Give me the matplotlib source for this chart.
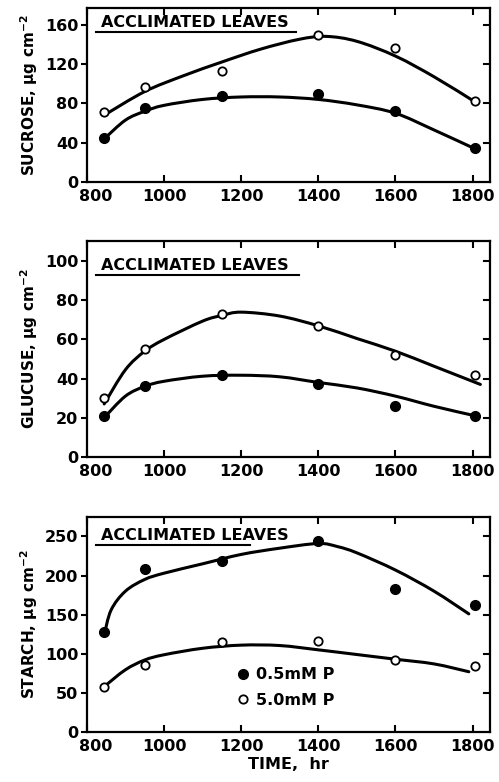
import matplotlib
matplotlib.use('Agg')
import matplotlib.pyplot as plt
from matplotlib.path import Path
from matplotlib.patches import PathPatch
from matplotlib.transforms import ScaledTranslation

plt.rcParams['font.family'] = 'DejaVu Sans'
plt.rcParams['font.weight'] = 'bold'
plt.rcParams['mathtext.default'] = 'bf'

# sampling times (hr)
times = [845, 950, 1150, 1400, 1600, 1805]

# measured points
sucrose_low = [45, 75, 87, 90, 72, 35]      # 0.5 mM P (filled)
sucrose_high = [71, 97, 113, 149, 136, 82]  # 5.0 mM P (open)
glucose_low = [21, 36, 42, 37, 26, 21]
glucose_high = [30, 55, 73, 67, 52, 42]
starch_low = [128, 208, 218, 244, 183, 162]
starch_high = [57, 85, 115, 116, 92, 84]

# hand-drawn fit curves
suc_low_cx = [845, 900, 950, 1000, 1100, 1200, 1300, 1400, 1500, 1600, 1700, 1800]
suc_low_cy = [44, 63, 72, 78, 84, 86.5, 86.5, 84, 78.5, 70, 53, 35]
suc_high_cx = [845, 950, 1050, 1150, 1250, 1350, 1420, 1500, 1600, 1700, 1800]
suc_high_cy = [68, 92, 108, 122, 135, 145, 148, 143, 128, 107, 83]

glu_low_cx = [845, 900, 950, 1000, 1100, 1200, 1300, 1400, 1500, 1600, 1700, 1805]
glu_low_cy = [20, 31, 36, 38.6, 41.2, 41.7, 40.9, 38, 35.2, 31, 25.8, 21]
glu_high_cx = [845, 900, 950, 1000, 1100, 1150, 1200, 1300, 1400, 1500, 1600, 1700, 1820]
glu_high_cy = [27, 44.5, 54, 60, 69.4, 72.3, 74, 72, 67, 60.5, 54, 46.3, 37]

sta_low_cx = [845, 863, 900, 950, 1000, 1100, 1200, 1300, 1400, 1450, 1500, 1600, 1700, 1790]
sta_low_cy = [124, 156, 180, 195, 203, 215, 227, 235, 241, 237, 229, 207, 180, 151]
sta_high_cx = [845, 900, 950, 1000, 1100, 1200, 1300, 1400, 1500, 1600, 1700, 1790]
sta_high_cy = [58, 79.5, 92, 98.7, 107, 111, 110.5, 105, 99, 93, 87, 77]


def smooth_curve(ax, xs, ys):
    # Catmull-Rom through the read points, drawn as cubic Bezier path
    pts = list(zip(xs, ys))
    n = len(pts)
    verts = [pts[0]]
    codes = [Path.MOVETO]
    for i in range(n - 1):
        p0 = pts[max(i - 1, 0)]
        p1 = pts[i]
        p2 = pts[i + 1]
        p3 = pts[min(i + 2, n - 1)]
        c1 = (p1[0] + (p2[0] - p0[0]) / 6.0, p1[1] + (p2[1] - p0[1]) / 6.0)
        c2 = (p2[0] - (p3[0] - p1[0]) / 6.0, p2[1] - (p3[1] - p1[1]) / 6.0)
        verts += [c1, c2, p2]
        codes += [Path.CURVE4] * 3
    ax.add_patch(PathPatch(Path(verts, codes), facecolor='none', edgecolor='black',
                           lw=2.2, capstyle='round', transform=ax.transData))


panels = [
    ('SUCROSE, $\\mu$g cm$^{-2}$', [0, 40, 80, 120, 160], 177,
     sucrose_low, sucrose_high, suc_low_cx, suc_low_cy, suc_high_cx, suc_high_cy,
     [0.990, 0.767], 0.918, 0.862, 0.518),
    ('GLUCUSE, $\\mu$g cm$^{-2}$', [0, 20, 40, 60, 80, 100], 110.5,
     glucose_low, glucose_high, glu_low_cx, glu_low_cy, glu_high_cx, glu_high_cy,
     [0.692, 0.416], 0.885, 0.843, 0.526),
    ('STARCH, $\\mu$g cm$^{-2}$', [0, 50, 100, 150, 200, 250], 275,
     starch_low, starch_high, sta_low_cx, sta_low_cy, sta_high_cx, sta_high_cy,
     [0.339, 0.064], 0.912, 0.870, 0.404),
]

fig = plt.figure(figsize=(4.99, 7.82), dpi=100)
left, width = 0.174, 0.808

for i, (ylab, yticks, ytop, low, high, lcx, lcy, hcx, hcy, tb, ty, uy, ux) in enumerate(panels):
    top, bottom = tb
    ax = fig.add_axes([left, bottom, width, top - bottom])
    smooth_curve(ax, lcx, lcy)
    smooth_curve(ax, hcx, hcy)
    ax.plot(times, low, 'o', color='black', ms=7, label='0.5mM P')
    ax.plot(times, high, 'o', mfc='white', mec='black', mew=1.3, ms=6, label='5.0mM P')

    ax.set_xlim(800, 1845)
    ax.set_ylim(0, ytop)
    ax.set_xticks([800, 1000, 1200, 1400, 1600, 1800])
    ax.set_yticks(yticks)
    ax.tick_params(axis='both', labelsize=11.5, width=1.5, length=5, pad=2)
    ax.tick_params(axis='x', direction='in', top=True, pad=5)
    ax.tick_params(axis='y', which='both', direction='out', right=False, length=4)
    for t in yticks[1:]:
        ax.plot([1, 0.985], [t / ytop] * 2, transform=ax.transAxes, color='black', lw=1.5)
    for sp in ax.spines.values():
        sp.set_linewidth(1.6)
    ax.set_ylabel(ylab, fontsize=11, fontweight='bold', labelpad=4)

    # nudge the first x label right so it clears the y "0"
    lab = ax.xaxis.get_major_ticks()[0].label1
    lab.set_transform(lab.get_transform() + ScaledTranslation(0.09, 0, fig.dpi_scale_trans))

    ax.text(0.035, ty, 'ACCLIMATED LEAVES', transform=ax.transAxes,
            fontsize=11.5, fontweight='bold', va='center', ha='left')
    ax.plot([0.022, ux], [uy, uy], transform=ax.transAxes, color='black', lw=1.5)

    if i == 2:
        ax.set_xlabel('TIME,  hr', fontsize=11.5, fontweight='bold', labelpad=2)
        ax.legend(loc='upper left', bbox_to_anchor=(0.36, 0.33), frameon=False,
                  handlelength=0.6, handletextpad=0.5, labelspacing=0.65,
                  fontsize=11.5, borderaxespad=0)

fig.savefig('out.png', dpi=100)
plt.close()
